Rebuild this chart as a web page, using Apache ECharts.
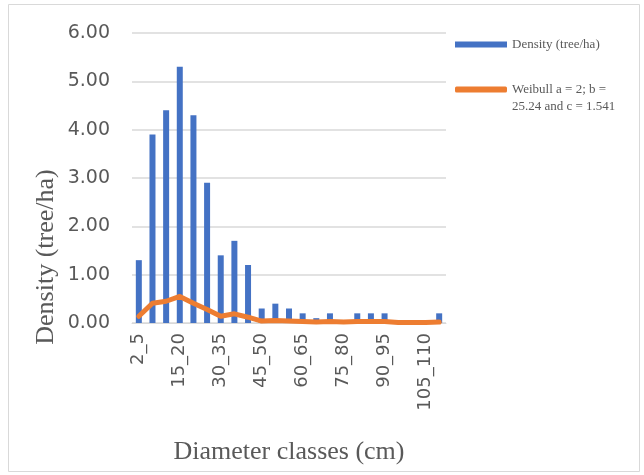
<!DOCTYPE html>
<html>
<head>
<meta charset="utf-8">
<script src="https://cdn.jsdelivr.net/npm/echarts@6/dist/echarts.min.js"></script>
<style>
html,body{margin:0;padding:0;background:#fff;}
#chart{width:644px;height:475px;}
</style>
</head>
<body>
<div id="chart"></div>
<script>
var categories = ['2_5','5_10','10_15','15_20','20_25','25_30','30_35','35_40','40_45','45_50','50_55','55_60','60_65','65_70','70_75','75_80','80_85','85_90','90_95','95_100','100_105','105_110','110_115'];
var densityValues = [1.30,3.90,4.40,5.30,4.30,2.90,1.40,1.70,1.20,0.30,0.40,0.30,0.20,0.10,0.20,0,0.20,0.20,0.20,0,0,0,0.20];
var weibullValues = [0.14,0.41,0.45,0.55,0.41,0.28,0.14,0.19,0.12,0.04,0.05,0.04,0.03,0.02,0.03,0.02,0.03,0.03,0.03,0.01,0.01,0.01,0.02];
var yTicks = [0,1,2,3,4,5,6];
var densityName = 'Density (tree/ha)';
var weibullName = 'Weibull a = 2; b =\n25.24 and c = 1.541';
var yTitle = 'Density (tree/ha)';
var xTitle = 'Diameter classes (cm)';

var chart = echarts.init(document.getElementById('chart'), null, {renderer:'canvas'});
chart.setOption({
  animation:false,
  backgroundColor:'#ffffff',
  graphic:[
    {type:'rect',shape:{x:8.5,y:4.5,width:631,height:467},style:{fill:'none',stroke:'#d9d9d9',lineWidth:1}},
    {type:'text',x:46,y:257,rotation:Math.PI/2,style:{text:yTitle,font:'26px "Liberation Serif"',fill:'#595959',textAlign:'center',textVerticalAlign:'middle'}}
  ],
  grid:{left:132,right:198,top:33,bottom:152,containLabel:false},
  legend:{
    orient:'vertical',left:450,top:31,itemGap:11,itemWidth:52,itemHeight:6,
    textStyle:{fontFamily:'Liberation Serif',fontSize:13,color:'#595959',lineHeight:17},
    formatter:function(n){return n===weibullName ? ' \n'+n : n;},
    data:[{name:densityName,icon:'rect'},{name:weibullName,icon:'roundRect'}]
  },
  xAxis:{
    type:'category',data:categories,
    name:xTitle,nameLocation:'middle',nameGap:116,
    nameTextStyle:{fontFamily:'Liberation Serif',fontSize:26,color:'#595959'},
    axisLine:{show:true,lineStyle:{color:'#d9d9d9',width:1}},
    axisTick:{show:false},
    axisLabel:{rotate:90,interval:2,fontFamily:'DejaVu Sans',fontSize:18,color:'#595959',margin:10}
  },
  yAxis:{
    type:'value',min:0,max:6,interval:1,
    axisLine:{show:false},axisTick:{show:false},
    splitLine:{lineStyle:{color:'#d9d9d9',width:1.5}},
    axisLabel:{fontFamily:'DejaVu Sans',fontSize:19,color:'#595959',margin:22,formatter:function(v){return v.toFixed(2);}}
  },
  series:[
    {name:densityName,type:'bar',data:densityValues,barWidth:6,itemStyle:{color:'#4472C4'}},
    {name:weibullName,type:'line',data:weibullValues,symbol:'none',lineStyle:{color:'#ED7D31',width:5,cap:'round',join:'round'},itemStyle:{color:'#ED7D31'}}
  ]
});
</script>
</body>
</html>
